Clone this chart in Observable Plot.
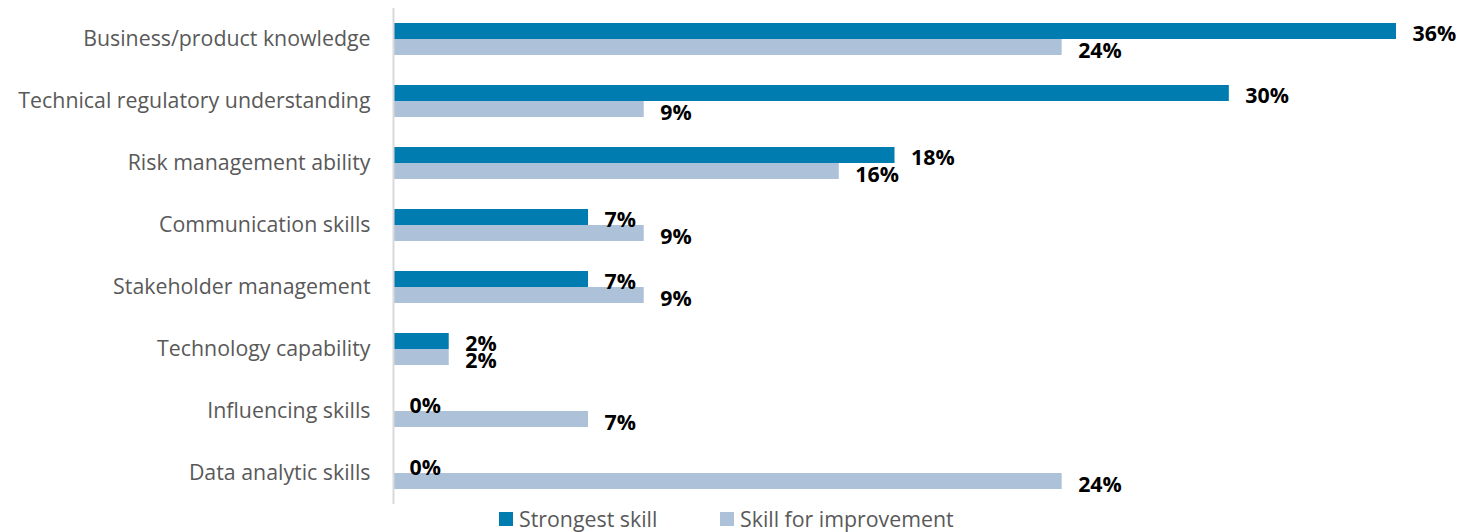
<!DOCTYPE html>
<html>
<head>
<meta charset="utf-8">
<script src="https://cdn.jsdelivr.net/npm/d3@7"></script>
<script src="https://cdn.jsdelivr.net/npm/@observablehq/plot@0.6"></script>
<style>
  html, body { margin: 0; padding: 0; background: #fff; }
  #chart svg { display: block; }
  .legend { position: relative; height: 27px; font-family: "Open Sans", sans-serif; font-size: 21.33px; color: #595959; }
  .legend .item { position: absolute; top: 0; display: flex; align-items: center; height: 27px; white-space: nowrap; }
  .legend .sw { width: 14px; height: 14px; margin-right: 6px; }
</style>
</head>
<body>
<div id="chart"></div>
<div class="legend" id="legend"></div>
<script>
const categories = [
  "Business/product knowledge",
  "Technical regulatory understanding",
  "Risk management ability",
  "Communication skills",
  "Stakeholder management",
  "Technology capability",
  "Influencing skills",
  "Data analytic skills"
];
const seriesNames = ["Strongest skill", "Skill for improvement"];
const seriesColors = ["#007cb0", "#adc2d8"];
const strongest = [36, 30, 18, 7, 7, 2, 0, 0];
const improvement = [24, 9, 16, 9, 9, 2, 7, 24];

const dataStrong = categories.map((c, i) => ({c, v: strongest[i]}));
const dataImprove = categories.map((c, i) => ({c, v: improvement[i]}));

const half = 31; // half band
const barH = 16;

const chart = Plot.plot({
  width: 1473,
  height: 505,
  marginLeft: 393,
  marginRight: 77,
  marginTop: 8,
  marginBottom: 1,
  style: {fontFamily: "Open Sans", fontSize: "21.33px", background: "#fff"},
  x: {domain: [0, 36], axis: null},
  y: {domain: categories, padding: 0, axis: null},
  marks: [
    Plot.axisY({tickSize: 0, tickPadding: 23, color: "#595959", fontSize: 21.33, label: null}),
    Plot.barX(dataStrong, {x: "v", y: "c", fill: seriesColors[0], insetTop: half - barH, insetBottom: half}),
    Plot.barX(dataImprove, {x: "v", y: "c", fill: seriesColors[1], insetTop: half, insetBottom: half - barH}),
    Plot.ruleX([0], {stroke: "#d9d9d9", strokeWidth: 2}),
    Plot.text(dataStrong, {x: "v", y: "c", text: d => d.v + "%", dx: 16, dy: -5.5, textAnchor: "start", fontWeight: "bold", fill: "#000", fontSize: 21.33}),
    Plot.text(dataImprove, {x: "v", y: "c", text: d => d.v + "%", dx: 16, dy: 12, textAnchor: "start", fontWeight: "bold", fill: "#000", fontSize: 21.33})
  ]
});
document.getElementById("chart").appendChild(chart);

const legend = document.getElementById("legend");
const lefts = [499, 720];
seriesNames.forEach((name, i) => {
  const item = document.createElement("div");
  item.className = "item";
  item.style.left = lefts[i] + "px";
  const sw = document.createElement("span");
  sw.className = "sw";
  sw.style.background = seriesColors[i];
  const tx = document.createElement("span");
  tx.textContent = name;
  item.appendChild(sw);
  item.appendChild(tx);
  legend.appendChild(item);
});
</script>
</body>
</html>
